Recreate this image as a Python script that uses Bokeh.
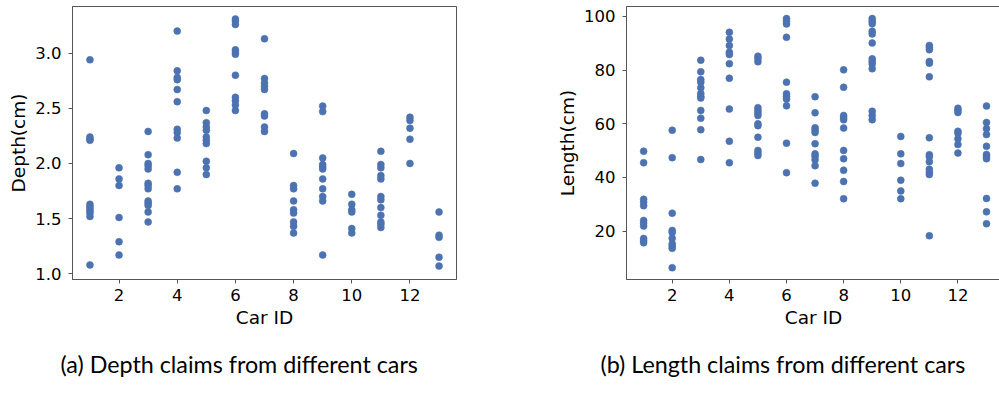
from bokeh.plotting import figure
from bokeh.layouts import row
from bokeh.models import FixedTicker, PrintfTickFormatter, Title, Range1d
from bokeh.embed import file_html
from bokeh.resources import INLINE

car_ids = list(range(1, 14))
x_ticks = [2, 4, 6, 8, 10, 12]
depth_ticks = [1.0, 1.5, 2.0, 2.5, 3.0]
length_ticks = [20, 40, 60, 80, 100]

depth_claims = {
    1: [2.94, 2.24, 2.22, 2.21, 1.63, 1.61, 1.59, 1.57, 1.55, 1.52, 1.08],
    2: [1.96, 1.86, 1.80, 1.51, 1.29, 1.17],
    3: [2.29, 2.08, 2.00, 1.98, 1.95, 1.82, 1.80, 1.77, 1.66, 1.64, 1.62, 1.56, 1.47],
    4: [3.20, 2.84, 2.78, 2.76, 2.67, 2.56, 2.31, 2.28, 2.23, 1.92, 1.77],
    5: [2.48, 2.37, 2.33, 2.30, 2.24, 2.21, 2.18, 2.02, 1.96, 1.90],
    6: [3.31, 3.29, 3.26, 3.03, 3.01, 2.99, 2.80, 2.60, 2.57, 2.53, 2.48],
    7: [3.13, 2.77, 2.73, 2.70, 2.67, 2.45, 2.43, 2.33, 2.29],
    8: [2.09, 1.80, 1.77, 1.66, 1.58, 1.55, 1.47, 1.43, 1.37],
    9: [2.52, 2.47, 2.05, 1.99, 1.97, 1.95, 1.86, 1.77, 1.70, 1.66, 1.17],
    10: [1.72, 1.63, 1.58, 1.56, 1.41, 1.37],
    11: [2.11, 1.99, 1.96, 1.89, 1.86, 1.70, 1.67, 1.60, 1.53, 1.47, 1.45, 1.42],
    12: [2.42, 2.39, 2.32, 2.22, 2.00],
    13: [1.56, 1.35, 1.33, 1.15, 1.07],
}

length_claims = {
    1: [49.8, 45.5, 31.9, 30.8, 29.5, 24.0, 23.0, 21.9, 17.3, 16.5, 15.7],
    2: [57.6, 47.4, 26.7, 20.3, 19.5, 17.4, 15.3, 14.5, 13.6, 6.4],
    3: [83.7, 79.4, 76.5, 75.5, 73.4, 71.3, 70.2, 69.6, 65.0, 62.1, 57.8, 46.7],
    4: [94.1, 91.6, 89.2, 86.7, 85.8, 82.4, 77.0, 65.5, 53.5, 45.5],
    5: [85.2, 84.3, 83.1, 66.0, 65.0, 64.0, 63.1, 60.0, 59.3, 55.0, 50.1, 49.1, 48.2],
    6: [99.2, 98.2, 97.2, 92.2, 75.5, 71.2, 70.2, 69.2, 66.7, 52.8, 41.8],
    7: [70.1, 64.1, 58.5, 57.7, 56.8, 52.6, 48.8, 47.9, 46.6, 44.4, 37.9],
    8: [80.1, 73.6, 63.1, 62.3, 61.5, 58.4, 50.1, 47.0, 42.7, 38.5, 32.1],
    9: [99.2, 98.2, 97.3, 94.5, 93.5, 90.1, 84.2, 83.2, 82.3, 80.5, 64.7, 63.1, 61.5],
    10: [55.3, 48.8, 45.2, 39.0, 35.0, 32.1],
    11: [89.2, 88.5, 87.6, 83.2, 82.6, 77.5, 54.8, 48.5, 47.7, 45.9, 43.1, 42.0, 41.1, 18.3],
    12: [65.8, 65.0, 64.2, 57.2, 56.5, 54.4, 52.3, 49.1],
    13: [66.6, 60.5, 58.2, 56.0, 51.6, 48.6, 47.8, 47.0, 32.2, 27.2, 22.8],
}

captions = ["(a) Depth claims from different cars", "(b) Length claims from different cars"]
y_labels = ["Depth(cm)", "Length(cm)"]
x_label = "Car ID"

DOT = "#4C72B0"
FRAME = "#555555"
TICK_FONT = "DejaVu Sans"
CAP_FONT = "Lato"


def flatten(claims):
    xs, ys = [], []
    for cid in car_ids:
        for v in claims[cid]:
            xs.append(cid)
            ys.append(v)
    return xs, ys


def make_fig(claims, yr, xr_end, yticks, ylabel, fmt, border_left, frame_w, border_right, caption, cap_dx):
    p = figure(frame_width=frame_w, frame_height=273,
               min_border_left=border_left, min_border_right=border_right,
               min_border_top=6, min_border_bottom=0,
               x_range=Range1d(0.4, xr_end), y_range=Range1d(*yr),
               output_backend="svg", toolbar_location=None)
    xs, ys = flatten(claims)
    p.scatter(xs, ys, size=7, fill_color=DOT, line_color=DOT, line_width=0.5)
    p.xgrid.visible = False
    p.ygrid.visible = False
    p.outline_line_color = FRAME
    p.outline_line_width = 1
    p.background_fill_color = "white"
    p.border_fill_color = "white"
    for ax in (p.xaxis[0], p.yaxis[0]):
        ax.axis_line_color = FRAME
        ax.major_tick_line_color = FRAME
        ax.major_tick_in = 0
        ax.major_tick_out = 4
        ax.minor_tick_line_color = None
        ax.major_label_text_font = TICK_FONT
        ax.major_label_text_font_size = "16.5px"
        ax.major_label_text_color = "#000000"
        ax.axis_label_text_font = TICK_FONT
        ax.axis_label_text_font_size = "18.5px"
        ax.axis_label_text_font_style = "normal"
        ax.axis_label_text_color = "#000000"
    p.xaxis[0].ticker = FixedTicker(ticks=x_ticks)
    p.yaxis[0].ticker = FixedTicker(ticks=yticks)
    if fmt:
        p.yaxis[0].formatter = PrintfTickFormatter(format=fmt)
    p.xaxis[0].axis_label = x_label
    p.yaxis[0].axis_label = ylabel
    p.xaxis[0].major_label_standoff = 5
    p.yaxis[0].major_label_standoff = 7
    p.xaxis[0].axis_label_standoff = 3
    p.yaxis[0].axis_label_standoff = 3
    t = Title(text=caption, align="left", offset=cap_dx, standoff=35,
              text_font=CAP_FONT, text_font_size="23.3px", text_color="#000000",
              text_font_style="normal")
    p.add_layout(t, "below")
    return p


p1 = make_fig(depth_claims, (0.948, 3.423), 13.6, depth_ticks, y_labels[0], "%.1f",
              72, 384, 64, captions[0], -12)
p2 = make_fig(length_claims, (2.0, 103.7), 13.49, length_ticks, y_labels[1], None,
              106, 374, 0, captions[1], -26)

layout = row(p1, p2, spacing=0)
open("out.html", "w").write(file_html(layout, INLINE))
